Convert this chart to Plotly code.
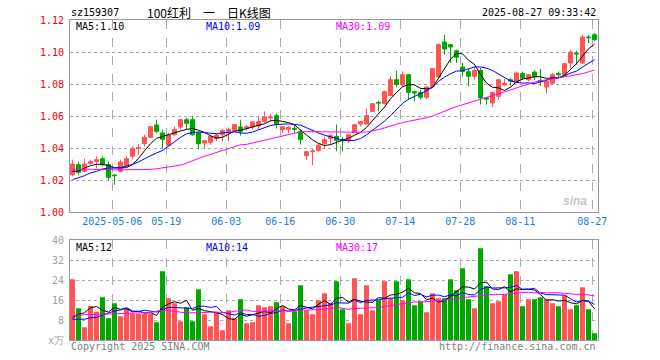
import numpy as np
import pandas as pd
import plotly.graph_objects as go

# ---------------- data ----------------
dates = [
    "2025-04-22", "2025-04-23", "2025-04-24", "2025-04-25", "2025-04-28", "2025-04-29", "2025-04-30",
    "2025-05-06", "2025-05-07", "2025-05-08", "2025-05-09", "2025-05-12", "2025-05-13", "2025-05-14",
    "2025-05-15", "2025-05-16", "2025-05-19", "2025-05-20", "2025-05-21", "2025-05-22", "2025-05-23",
    "2025-05-26", "2025-05-27", "2025-05-28", "2025-05-29", "2025-05-30", "2025-06-03", "2025-06-04",
    "2025-06-05", "2025-06-06", "2025-06-09", "2025-06-10", "2025-06-11", "2025-06-12", "2025-06-13",
    "2025-06-16", "2025-06-17", "2025-06-18", "2025-06-19", "2025-06-20", "2025-06-23", "2025-06-24",
    "2025-06-25", "2025-06-26", "2025-06-27", "2025-06-30", "2025-07-01", "2025-07-02", "2025-07-03",
    "2025-07-04", "2025-07-07", "2025-07-08", "2025-07-09", "2025-07-10", "2025-07-11", "2025-07-14",
    "2025-07-15", "2025-07-16", "2025-07-17", "2025-07-18", "2025-07-21", "2025-07-22", "2025-07-23",
    "2025-07-24", "2025-07-25", "2025-07-28", "2025-07-29", "2025-07-30", "2025-07-31", "2025-08-01",
    "2025-08-04", "2025-08-05", "2025-08-06", "2025-08-07", "2025-08-08", "2025-08-11", "2025-08-12",
    "2025-08-13", "2025-08-14", "2025-08-15", "2025-08-18", "2025-08-19", "2025-08-20", "2025-08-21",
    "2025-08-22", "2025-08-25", "2025-08-26", "2025-08-27",
]

opens = [
    1.0233, 1.0296, 1.0254, 1.0304, 1.0315, 1.0333, 1.0296, 1.0231, 1.0254, 1.0290,
    1.0348, 1.0396, 1.0427, 1.0467, 1.0544, 1.0494, 1.0417, 1.0483, 1.0531, 1.0577,
    1.0577, 1.0494, 1.0431, 1.0435, 1.0460, 1.0483, 1.0504, 1.0510, 1.0531, 1.0523,
    1.0531, 1.0538, 1.0565, 1.0588, 1.0602, 1.0515, 1.0517, 1.0523, 1.0504, 1.0352,
    1.0377, 1.0385, 1.0427, 1.0460, 1.0473, 1.0452, 1.0446, 1.0498, 1.0550, 1.0550,
    1.0629, 1.0685, 1.0677, 1.0727, 1.0827, 1.0796, 1.0858, 1.0752, 1.0748, 1.0717,
    1.0785, 1.0844, 1.1063, 1.1046, 1.1008, 1.0906, 1.0877, 1.0848, 1.0885, 1.0713,
    1.0681, 1.0723, 1.0794, 1.0827, 1.0810, 1.0865, 1.0827, 1.0875, 1.0823, 1.0781,
    1.0804, 1.0865, 1.0858, 1.0931, 1.0994, 1.0931, 1.1094, 1.1108,
]
highs = [
    1.0327, 1.0313, 1.0333, 1.0327, 1.0346, 1.0348, 1.0313, 1.0235, 1.0327, 1.0348,
    1.0410, 1.0425, 1.0483, 1.0533, 1.0577, 1.0515, 1.0494, 1.0533, 1.0580, 1.0588,
    1.0598, 1.0504, 1.0446, 1.0483, 1.0490, 1.0519, 1.0529, 1.0550, 1.0577, 1.0546,
    1.0565, 1.0598, 1.0629, 1.0613, 1.0615, 1.0535, 1.0535, 1.0546, 1.0515, 1.0379,
    1.0396, 1.0431, 1.0469, 1.0488, 1.0546, 1.0469, 1.0490, 1.0550, 1.0569, 1.0646,
    1.0680, 1.0696, 1.0758, 1.0848, 1.0883, 1.0879, 1.0862, 1.0758, 1.0765, 1.0785,
    1.0900, 1.1052, 1.1108, 1.1050, 1.1015, 1.0931, 1.0894, 1.0906, 1.0900, 1.0717,
    1.0748, 1.0831, 1.0831, 1.0838, 1.0879, 1.0879, 1.0865, 1.0885, 1.0894, 1.0827,
    1.0869, 1.0879, 1.0931, 1.1015, 1.1008, 1.1108, 1.1108, 1.1119,
]
lows = [
    1.0223, 1.0233, 1.0248, 1.0296, 1.0275, 1.0285, 1.0198, 1.0171, 1.0248, 1.0281,
    1.0331, 1.0358, 1.0410, 1.0465, 1.0494, 1.0394, 1.0410, 1.0477, 1.0515, 1.0519,
    1.0477, 1.0394, 1.0398, 1.0421, 1.0442, 1.0442, 1.0442, 1.0504, 1.0477, 1.0508,
    1.0515, 1.0519, 1.0556, 1.0567, 1.0521, 1.0494, 1.0492, 1.0488, 1.0421, 1.0327,
    1.0292, 1.0377, 1.0394, 1.0421, 1.0380, 1.0379, 1.0431, 1.0494, 1.0535, 1.0546,
    1.0623, 1.0629, 1.0671, 1.0723, 1.0781, 1.0781, 1.0702, 1.0692, 1.0702, 1.0706,
    1.0781, 1.0842, 1.0983, 1.0931, 1.0931, 1.0848, 1.0785, 1.0827, 1.0671, 1.0671,
    1.0656, 1.0702, 1.0785, 1.0790, 1.0806, 1.0825, 1.0817, 1.0825, 1.0790, 1.0740,
    1.0796, 1.0844, 1.0848, 1.0900, 1.0921, 1.0925, 1.1056, 1.1067,
]
closes = [
    1.0300, 1.0248, 1.0300, 1.0315, 1.0327, 1.0296, 1.0217, 1.0227, 1.0313, 1.0333,
    1.0398, 1.0402, 1.0467, 1.0533, 1.0504, 1.0454, 1.0481, 1.0515, 1.0577, 1.0554,
    1.0483, 1.0427, 1.0446, 1.0473, 1.0481, 1.0510, 1.0515, 1.0546, 1.0504, 1.0533,
    1.0563, 1.0565, 1.0594, 1.0594, 1.0546, 1.0533, 1.0529, 1.0517, 1.0452, 1.0377,
    1.0381, 1.0417, 1.0452, 1.0477, 1.0448, 1.0446, 1.0483, 1.0546, 1.0565, 1.0602,
    1.0677, 1.0681, 1.0752, 1.0827, 1.0796, 1.0858, 1.0748, 1.0744, 1.0717, 1.0781,
    1.0896, 1.1046, 1.1019, 1.1031, 1.0967, 1.0879, 1.0848, 1.0885, 1.0713, 1.0706,
    1.0748, 1.0827, 1.0804, 1.0819, 1.0869, 1.0838, 1.0858, 1.0844, 1.0817, 1.0817,
    1.0858, 1.0858, 1.0927, 1.1000, 1.0988, 1.1094, 1.1090, 1.1077,
]
# volume in 万手
volumes = [
    24.3, 12.7, 5.1, 13.6, 11.3, 17.1, 8.7, 14.7, 9.5, 12.7,
    10.5, 10.5, 10.5, 10.5, 7.1, 27.5, 16.7, 14.7, 7.5, 13.1,
    7.5, 20.3, 10.3, 5.5, 11.1, 3.9, 11.9, 8.7, 16.3, 6.7,
    7.1, 13.9, 13.1, 13.5, 15.1, 13.5, 6.7, 11.5, 21.9, 11.9,
    10.3, 15.9, 18.7, 14.7, 23.5, 12.3, 6.7, 24.7, 10.3, 21.9,
    11.9, 15.9, 23.5, 16.7, 23.5, 15.9, 24.3, 13.9, 15.5, 11.1,
    18.7, 16.7, 16.7, 24.3, 19.9, 28.7, 16.3, 12.7, 36.7, 21.5,
    14.7, 15.5, 18.3, 26.3, 27.5, 13.5, 16.3, 16.3, 17.1, 16.3,
    14.7, 13.5, 17.9, 12.3, 13.9, 21.1, 12.3, 2.7,
]

# moving-average values at the start of the window (depend on earlier, unseen days)
ma5_head = [1.0254, 1.0256, 1.0275, 1.0290]
ma10_head = [1.0202, 1.0213, 1.0227, 1.0244, 1.0254, 1.0269, 1.0275, 1.0275, 1.0277]
ma30_head = [1.0268, 1.0268, 1.0268, 1.0267, 1.0267, 1.0266, 1.0266, 1.0263, 1.0263, 1.0263,
             1.0263, 1.0263, 1.0264, 1.0266, 1.0270, 1.0275, 1.0280, 1.0285, 1.0293, 1.0305,
             1.0322, 1.0335, 1.0348, 1.0360, 1.0372, 1.0385, 1.0398, 1.0410, 1.0420]
vma5_head = [8.9, 10.3, 10.9, 12.9]
vma10_head = [8.3, 8.3, 8.3, 8.9, 9.0, 10.0, 10.8, 11.6, 12.0]
vma30_head = [9.9, 10.0, 10.0, 10.1, 10.2, 10.3, 10.5, 10.6, 10.8, 10.9,
              10.9, 10.9, 10.9, 11.0, 11.5, 11.9, 11.8, 11.5, 11.2, 10.8,
              10.9, 11.0, 11.2, 11.3, 11.2, 11.0, 11.0, 11.5, 11.7]

tick_dates = ["2025-05-06", "2025-05-19", "2025-06-03", "2025-06-16", "2025-06-30",
              "2025-07-14", "2025-07-28", "2025-08-11", "2025-08-27"]
tick_labels = ["2025-05-06", "05-19", "06-03", "06-16", "06-30", "07-14", "07-28", "08-11", "08-27"]
price_ticks = [1.00, 1.02, 1.04, 1.06, 1.08, 1.10, 1.12]
vol_ticks = [0, 8, 16, 24, 32, 40]
vol_tick_text = ["x万", "8", "16", "24", "32", "40"]

title_code = "sz159307"
title_name = "100红利　一　日K线图"
timestamp = "2025-08-27 09:33:42"
price_legend = ["MA5:1.10", "MA10:1.09", "MA30:1.09"]
vol_legend = ["MA5:12", "MA10:14", "MA30:17"]

# ---------------- derived ----------------
def moving_average(values, n, head):
    s = pd.Series(values, dtype=float).rolling(n).mean().to_numpy()
    s[:len(head)] = head
    return s

x = np.arange(len(dates))
ma5 = moving_average(closes, 5, ma5_head)
ma10 = moving_average(closes, 10, ma10_head)
ma30 = moving_average(closes, 30, ma30_head)
vma5 = moving_average(volumes, 5, vma5_head)
vma10 = moving_average(volumes, 10, vma10_head)
vma30 = moving_average(volumes, 30, vma30_head)

RED = "#ff5454"
GREEN = "#00a800"
vol_colors = [RED if c >= o else GREEN for o, c in zip(opens, closes)]
grid_x = [dates.index(d) - 0.37 for d in tick_dates]

fig = go.Figure()
fig.add_trace(go.Candlestick(
    x=x, open=opens, high=highs, low=lows, close=closes,
    increasing=dict(line=dict(color=RED, width=1), fillcolor=RED),
    decreasing=dict(line=dict(color=GREEN, width=1), fillcolor=GREEN),
    whiskerwidth=0, xaxis="x", yaxis="y", showlegend=False, hoverinfo="skip",
))
for series, col in [(ma5, "#000000"), (ma10, "#0000ff"), (ma30, "#ff00ff")]:
    fig.add_trace(go.Scatter(x=x, y=series, mode="lines", line=dict(color=col, width=1),
                             xaxis="x", yaxis="y", showlegend=False, hoverinfo="skip"))

fig.add_trace(go.Bar(x=x, y=volumes, marker=dict(color=vol_colors, line=dict(width=0)),
                     xaxis="x2", yaxis="y2", showlegend=False, hoverinfo="skip"))
for series, col in [(vma5, "#000000"), (vma10, "#0000ff"), (vma30, "#ff00ff")]:
    fig.add_trace(go.Scatter(x=x, y=series, mode="lines", line=dict(color=col, width=1),
                             xaxis="x2", yaxis="y2", showlegend=False, hoverinfo="skip"))

MONO = "DejaVu Sans Mono, monospace"
GRID = "#aaaaaa"
FRAME = "#999999"
xr = [-0.4167, len(dates) - 1 + 0.5833]

common_x = dict(range=xr, showline=True, mirror=True, linecolor=FRAME, linewidth=1,
                showgrid=True, gridcolor=GRID, griddash="dash", gridwidth=1,
                tickmode="array", tickvals=grid_x, zeroline=False, ticks="",
                fixedrange=True)

fig.update_layout(
    width=660, height=360,
    margin=dict(l=70, r=62, t=20, b=20),
    paper_bgcolor="white", plot_bgcolor="white",
    boxgap=0.333, boxgroupgap=0, bargap=0.17,
    xaxis=dict(common_x, anchor="y", domain=[0, 1], ticktext=tick_labels,
               tickfont=dict(family=MONO, size=10, color="#1a7dd6"),
               rangeslider=dict(visible=False)),
    yaxis=dict(domain=[0.4, 1], range=[1.00, 1.12], showline=True, mirror=True,
               linecolor=FRAME, linewidth=1, showgrid=True, gridcolor=GRID, griddash="dot",
               tickmode="array", tickvals=price_ticks, ticktext=[f"{v:.2f}" for v in price_ticks],
               tickfont=dict(family=MONO, size=10, color="#ee0000"), zeroline=False,
               ticks="outside", ticklen=3, tickcolor="rgba(0,0,0,0)"),
    xaxis2=dict(common_x, anchor="y2", domain=[0, 1], showticklabels=False),
    yaxis2=dict(domain=[0, 0.3125], range=[0, 40], showline=True, mirror=True,
                linecolor=FRAME, linewidth=1, showgrid=True, gridcolor=GRID, griddash="dot",
                tickmode="array", tickvals=vol_ticks, ticktext=vol_tick_text,
                tickfont=dict(family=MONO, size=10, color="#a0a0a0"), zeroline=False,
                ticks="outside", ticklen=3, tickcolor="rgba(0,0,0,0)"),
)

def px_to_paper(px, py):
    return (px - 70) / 528.0, (340 - py) / 320.0

anns = []
def ann(text, px, py, color="#000000", size=10, xanchor="left", family=MONO, **kw):
    xp, yp = px_to_paper(px, py)
    anns.append(dict(text=text, x=xp, y=yp, xref="paper", yref="paper", xanchor=xanchor,
                     yanchor="middle", showarrow=False,
                     font=dict(family=family, size=size, color=color), **kw))

ann(title_code, 69, 12.5)
ann(title_name, 209, 12.5, size=12, xanchor="center", family="Noto Sans CJK SC")
ann(timestamp, 598, 12.5, xanchor="right")
ma_cols = ["#000000", "#0000ff", "#ff00ff"]
for txt, col, px in zip(price_legend, ma_cols, [74, 204, 334]):
    ann(txt, px, 27, color=col)
for txt, col, px in zip(vol_legend, ma_cols, [74, 204, 334]):
    ann(txt, px, 247, color=col)
ann("Copyright 2025 SINA.COM", 69, 346, color="#808080")
ann("http://finance.sina.com.cn", 598, 346, color="#808080", xanchor="right")
ann("<i><b>sina</b></i>", 575, 201, color="rgba(150,150,150,0.55)", size=12,
    xanchor="center", family="Liberation Sans")
fig.update_layout(annotations=anns)

fig.write_html("out.html", config={"displayModeBar": False},
               post_script="document.body.style.margin='0';document.body.style.padding='0';")
